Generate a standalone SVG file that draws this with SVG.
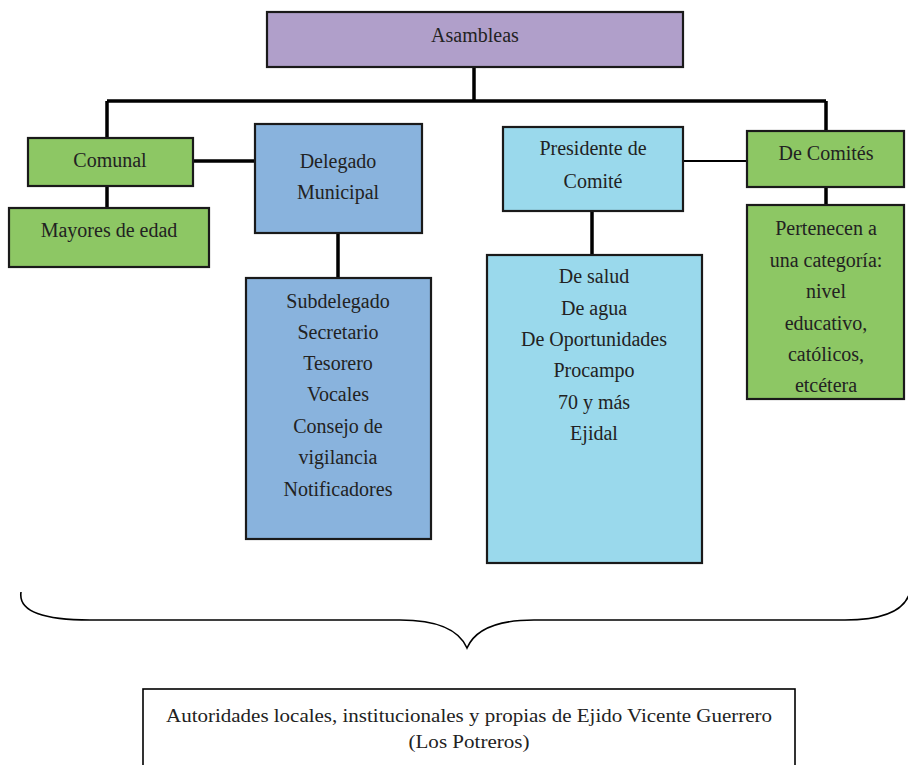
<svg xmlns="http://www.w3.org/2000/svg" width="908" height="765" viewBox="0 0 908 765">
<style>
.box{stroke:#1a1a1a;stroke-width:2.2}
.purple{fill:#B09FCA}
.green{fill:#8DC764}
.blue{fill:#89B3DD}
.lblue{fill:#9AD9EC}
.white{fill:#FFFFFF}
text{font-family:"Liberation Serif","Times New Roman",serif;font-size:20px;fill:#222;text-anchor:middle;dominant-baseline:central}
.conn{stroke:#000;stroke-width:3.5;fill:none}
.thin{stroke:#000;stroke-width:2;fill:none}
</style>
<rect width="908" height="765" fill="#fff"/>
<g id="connectors">
<path class="conn" d="M474,67 V101 M107,101 H826 M107,101 V138 M826,101 V131 M193,161 H255 M107,186 V208 M338,233 V278 M592,211 V255 M826,187 V205"/>
<path class="thin" d="M683,161 H747"/>
</g>
<g id="asambleas"><rect class="box purple" x="267" y="12" width="416" height="55"/><text x="475" y="35">Asambleas</text></g>
<g id="comunal"><rect class="box green" x="28" y="138" width="165" height="48"/><text x="110" y="160">Comunal</text></g>
<g id="mayores"><rect class="box green" x="9" y="208" width="200" height="59"/><text x="109" y="230">Mayores de edad</text></g>
<g id="delegado"><rect class="box blue" x="255" y="124" width="167" height="109"/><text x="338" y="161">Delegado</text><text x="338" y="192">Municipal</text></g>
<g id="subdelegado"><rect class="box blue" x="246" y="278" width="185" height="261"/>
<text x="338" y="301">Subdelegado</text><text x="338" y="332">Secretario</text><text x="338" y="363">Tesorero</text><text x="338" y="394">Vocales</text><text x="338" y="426">Consejo de</text><text x="338" y="457">vigilancia</text><text x="338" y="489">Notificadores</text></g>
<g id="presidente"><rect class="box lblue" x="503" y="127" width="180" height="84"/><text x="593" y="148">Presidente de</text><text x="593" y="181">Comité</text></g>
<g id="comites"><rect class="box lblue" x="487" y="255" width="215" height="308"/>
<text x="594" y="276">De salud</text><text x="594" y="308">De agua</text><text x="594" y="339">De Oportunidades</text><text x="594" y="370">Procampo</text><text x="594" y="402">70 y más</text><text x="594" y="433">Ejidal</text></g>
<g id="decomites"><rect class="box green" x="747" y="131" width="157" height="56"/><text x="826" y="153">De Comités</text></g>
<g id="pertenecen"><rect class="box green" x="747" y="205" width="157" height="194"/>
<text x="826" y="228">Pertenecen a</text><text x="826" y="260">una categoría:</text><text x="826" y="291">nivel</text><text x="826" y="323">educativo,</text><text x="826" y="354">católicos,</text><text x="826" y="385">etcétera</text></g>
<g id="brace"><path d="M21,592 C18,612 45,620 90,620 H400 C440,620 460,632 467,648 C474,632 494,620 534,620 H845 C885,620 905,610 910,592" fill="none" stroke="#000" stroke-width="1.6"/></g>
<g id="autoridades"><rect x="143" y="689" width="652" height="90" fill="#fff" stroke="#000" stroke-width="1.6"/>
<text x="469" y="715" textLength="606" lengthAdjust="spacingAndGlyphs" style="font-size:19px">Autoridades locales, institucionales y propias de Ejido Vicente Guerrero</text>
<text x="469" y="741" textLength="121" lengthAdjust="spacingAndGlyphs" style="font-size:19px">(Los Potreros)</text></g>
</svg>
